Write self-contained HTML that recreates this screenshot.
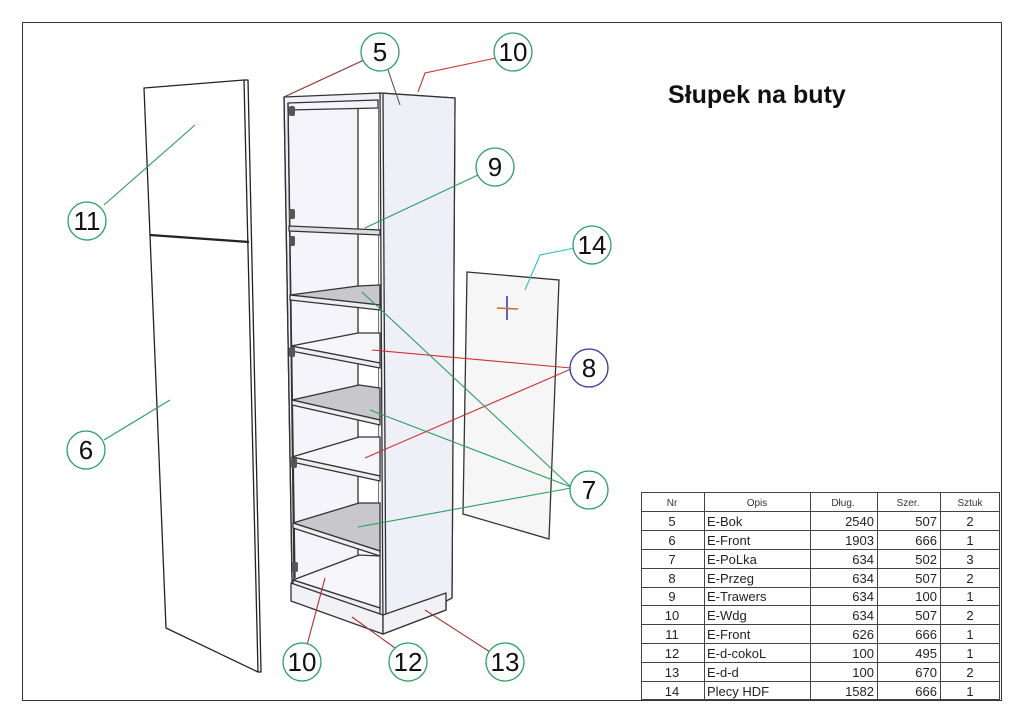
<!DOCTYPE html>
<html><head><meta charset="utf-8"><style>
html,body{margin:0;padding:0;background:#fff}
svg{display:block}
text{font-family:"Liberation Sans",sans-serif}
</style></head><body>
<svg width="1024" height="724" viewBox="0 0 1024 724" xmlns="http://www.w3.org/2000/svg">
<rect x="22.5" y="22.5" width="979" height="678" fill="#fff" stroke="#333" stroke-width="1"/>
<!-- door panels -->
<g stroke="#222" stroke-width="1.3" fill="#fff" stroke-linejoin="round">
<polygon points="144,88 244,80 248,80 261,672 258,672 166,628"/>
<line x1="244" y1="80" x2="258" y2="672"/>
<line x1="150" y1="235" x2="249" y2="242" stroke-width="2.2"/>
</g>
<!-- back panel -->
<polygon points="467,272 559,280 549,539 463,514" fill="#f6f6f6" stroke="#333" stroke-width="1.3"/>
<line x1="507" y1="296" x2="507" y2="320" stroke="#2233cc" stroke-width="1.5"/>
<line x1="497" y1="308" x2="518" y2="309" stroke="#d2691e" stroke-width="1.5"/>
<!-- cabinet -->
<g stroke="#333" stroke-width="1.3" stroke-linejoin="round">
<polygon points="284,97 380,93 455,98 452,598 446,600 446,610 383,634 292,600 292,578" fill="#f0f0f8"/>
<polygon points="288,103 378,100 378,610 294,580" fill="#f4f4fa"/>
<rect x="358" y="108" width="20" height="470" fill="#fff" stroke="none"/>
<line x1="358" y1="108" x2="358" y2="575"/>
<line x1="288" y1="110" x2="378" y2="108"/>
<line x1="284" y1="97" x2="292" y2="578"/>
<line x1="288" y1="103" x2="295" y2="578"/>
<polygon points="380,93 455,98 452,598 383,634" fill="#efeff7"/>
<line x1="383" y1="93" x2="386" y2="632"/>
<!-- trawers -->
<polygon points="289,226 380,230 380,235 289,231" fill="#ddd"/>
<!-- shelves -->
<polygon points="290,295 358,286 380,285 380,305" fill="#c8c8cc"/>
<polygon points="290,295 380,305 380,310 290,300" fill="#eee"/>
<polygon points="291,346 358,333 380,333 380,363" fill="#f6f6fa"/>
<polygon points="291,346 380,363 380,368 291,351" fill="#eee"/>
<polygon points="292,400 359,385 380,388 380,420" fill="#c8c8cc"/>
<polygon points="292,400 380,420 380,425 292,405" fill="#eee"/>
<polygon points="292,457 359,437 380,437 380,476" fill="#f6f6fa"/>
<polygon points="292,457 380,476 380,481 292,462" fill="#eee"/>
<polygon points="293,523 359,503 380,503 380,551" fill="#c8c8cc"/>
<polygon points="293,523 380,551 380,556 293,528" fill="#eee"/>
<polygon points="293,580 359,555 380,556 380,608" fill="#f6f6fa"/>
<polygon points="293,580 380,608 380,614 293,585" fill="#eee"/>
<!-- plinth -->
<polygon points="291,583 383,615 383,634 291,601" fill="#f2f2f6"/>
<polygon points="383,615 446,593 446,610 383,634" fill="#f2f2f6"/>
</g>
<!-- hinges -->
<g fill="#555">
<rect x="289" y="106" width="6" height="10" rx="2"/><rect x="289" y="209" width="6" height="10" rx="2"/>
<rect x="289" y="236" width="6" height="10" rx="2"/><rect x="289" y="347" width="6" height="10" rx="2"/>
<rect x="291" y="458" width="6" height="10" rx="2"/><rect x="292" y="562" width="6" height="10" rx="2"/>
</g>
<!-- leaders -->
<g fill="none" stroke-width="1.1">
<line x1="364" y1="60" x2="284" y2="97" stroke="#8b3030"/>
<line x1="388" y1="70" x2="400" y2="105" stroke="#555"/>
<polyline points="496,58 425,73 418,92" stroke="#cc3333"/>
<line x1="478" y1="175" x2="365" y2="228" stroke="#2aa060"/>
<line x1="104" y1="205" x2="195" y2="125" stroke="#2aa060"/>
<polyline points="575,248 540,255 525,290" stroke="#33bbcc"/>
<line x1="571" y1="368" x2="372" y2="350" stroke="#cc3333"/>
<line x1="571" y1="369" x2="365" y2="458" stroke="#cc3333"/>
<line x1="571" y1="487" x2="362" y2="292" stroke="#2aa060"/>
<line x1="571" y1="487" x2="370" y2="410" stroke="#2aa060"/>
<line x1="571" y1="488" x2="358" y2="527" stroke="#2aa060"/>
<line x1="104" y1="440" x2="170" y2="400" stroke="#2aa060"/>
<line x1="307" y1="645" x2="325" y2="578" stroke="#aa3333"/>
<line x1="395" y1="648" x2="352" y2="617" stroke="#aa3333"/>
<line x1="490" y1="652" x2="425" y2="610" stroke="#aa3333"/>
</g>
<!-- circles -->
<g fill="#fff" stroke="#2aa060" stroke-width="1.3">
<circle cx="380" cy="52" r="19"/><circle cx="513" cy="52" r="19"/><circle cx="495" cy="167" r="19"/>
<circle cx="87" cy="221" r="19"/><circle cx="592" cy="245" r="19"/><circle cx="86" cy="450" r="19"/>
<circle cx="589" cy="490" r="19"/><circle cx="302" cy="662" r="19"/><circle cx="408" cy="662" r="19"/>
<circle cx="505" cy="662" r="19"/>
<circle cx="589" cy="368" r="19" stroke="#3333aa"/>
</g>
<g font-size="26" text-anchor="middle" fill="#111">
<text x="380" y="61">5</text><text x="513" y="61">10</text><text x="495" y="176">9</text>
<text x="87" y="230">11</text><text x="592" y="254">14</text><text x="86" y="459">6</text>
<text x="589" y="499">7</text><text x="302" y="671">10</text><text x="408" y="671">12</text>
<text x="505" y="671">13</text><text x="589" y="377">8</text>
</g>
<text x="668" y="103" font-size="25" font-weight="bold" fill="#111">Słupek na buty</text>
<!-- table -->
<g stroke="#444" stroke-width="1" fill="none">
<rect x="641.5" y="492.5" width="358" height="207"/>
<line x1="704.5" y1="492" x2="704.5" y2="700"/><line x1="810.5" y1="492" x2="810.5" y2="700"/>
<line x1="877.5" y1="492" x2="877.5" y2="700"/><line x1="940.5" y1="492" x2="940.5" y2="700"/>
<line x1="641" y1="511.5" x2="1000" y2="511.5"/><line x1="641" y1="530.5" x2="1000" y2="530.5"/>
<line x1="641" y1="549.5" x2="1000" y2="549.5"/><line x1="641" y1="568.5" x2="1000" y2="568.5"/>
<line x1="641" y1="587.5" x2="1000" y2="587.5"/><line x1="641" y1="605.5" x2="1000" y2="605.5"/>
<line x1="641" y1="624.5" x2="1000" y2="624.5"/><line x1="641" y1="643.5" x2="1000" y2="643.5"/>
<line x1="641" y1="662.5" x2="1000" y2="662.5"/><line x1="641" y1="681.5" x2="1000" y2="681.5"/>
</g>
<g font-size="10" fill="#333" text-anchor="middle">
<text x="672" y="506">Nr</text><text x="757" y="506">Opis</text><text x="843" y="506">Dług.</text><text x="908" y="506">Szer.</text><text x="970" y="506">Sztuk</text>
</g>
<g font-size="13" fill="#222">
<g text-anchor="middle">
<text x="672" y="526">5</text><text x="672" y="545">6</text><text x="672" y="564">7</text><text x="672" y="583">8</text><text x="672" y="601">9</text><text x="672" y="620">10</text><text x="672" y="639">11</text><text x="672" y="658">12</text><text x="672" y="677">13</text><text x="672" y="696">14</text>
<text x="970" y="526">2</text><text x="970" y="545">1</text><text x="970" y="564">3</text><text x="970" y="583">2</text><text x="970" y="601">1</text><text x="970" y="620">2</text><text x="970" y="639">1</text><text x="970" y="658">1</text><text x="970" y="677">2</text><text x="970" y="696">1</text>
</g>
<g>
<text x="707" y="526">E-Bok</text><text x="707" y="545">E-Front</text><text x="707" y="564">E-PoLka</text><text x="707" y="583">E-Przeg</text><text x="707" y="601">E-Trawers</text><text x="707" y="620">E-Wdg</text><text x="707" y="639">E-Front</text><text x="707" y="658">E-d-cokoL</text><text x="707" y="677">E-d-d</text><text x="707" y="696">Plecy HDF</text>
</g>
<g text-anchor="end">
<text x="874" y="526">2540</text><text x="874" y="545">1903</text><text x="874" y="564">634</text><text x="874" y="583">634</text><text x="874" y="601">634</text><text x="874" y="620">634</text><text x="874" y="639">626</text><text x="874" y="658">100</text><text x="874" y="677">100</text><text x="874" y="696">1582</text>
<text x="937" y="526">507</text><text x="937" y="545">666</text><text x="937" y="564">502</text><text x="937" y="583">507</text><text x="937" y="601">100</text><text x="937" y="620">507</text><text x="937" y="639">666</text><text x="937" y="658">495</text><text x="937" y="677">670</text><text x="937" y="696">666</text>
</g>
</g>
</svg>
</body></html>
